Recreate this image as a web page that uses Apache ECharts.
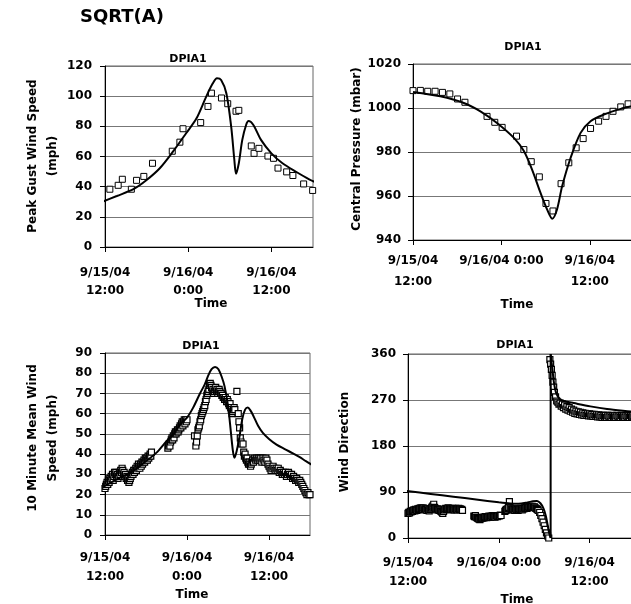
<!DOCTYPE html>
<html><head><meta charset="utf-8">
<script src="https://cdn.jsdelivr.net/npm/echarts@6/dist/echarts.min.js"></script>
<style>html,body{margin:0;padding:0;background:#fff}#c{width:631px;height:604px}</style>
</head><body><div id="c"></div>
<script>
// time in hours after 9/15/04 12:00
const timeTicks = [0, 12, 24];
const tickLabelsNarrow = ['9/15/04\n12:00', '9/16/04\n0:00', '9/16/04\n12:00'];
const tickLabelsWide = ['9/15/04\n12:00', '9/16/04 0:00', '9/16/04\n12:00'];

// Peak gust wind speed (mph)
const gustObs = [[0.7,38.3],[1.9,40.9],[2.5,44.9],[3.8,38.3],[4.55,44.2],[5.6,46.8],[6.85,55.5],[9.7,63.5],[10.8,69.5],[11.25,78.4],[13.8,82.5],[14.85,93.2],[15.35,102],[16.8,98.8],[17.7,95],[18.9,90],[19.3,90.6],[21.1,67],[21.5,62.1],[22.2,65.4],[23.5,60.3],[24.3,58.8],[24.95,52.3],[26.2,49.8],[27.1,47.4],[28.65,41.8],[29.95,37.5]];
const gustModel = [[-0.7,29.4],[1.7,33.8],[4.1,38.3],[6.0,44.4],[7.9,52.2],[9.8,63.2],[11.7,75.4],[13.2,85.3],[14.6,99.7],[15.55,108.5],[16.15,111.8],[16.75,110.7],[17.5,101.9],[18.2,79.8],[18.65,58],[18.9,48.5],[19.3,55.5],[19.8,71],[20.35,80.9],[20.7,83.5],[21.4,80.9],[22.5,71],[24.0,62.1],[25.6,55.5],[27.55,49.9],[29.45,44.9],[30.9,41.8]];

// Central pressure (mbar)
const pressObs = [[0,1007.9],[1,1008],[2,1007.6],[3,1007.6],[4,1007.1],[5,1006.4],[6.05,1004.1],[7.05,1002.6],[10.05,996.2],[11.1,993.5],[12.1,991.2],[14.05,987.2],[15.05,981.1],[16.05,975.6],[17.15,968.7],[18.05,956.6],[19.0,953.2],[20.1,965.6],[21.15,975.1],[22.15,981.9],[23.1,986.1],[24.1,990.7],[25.2,994],[26.2,996.2],[27.15,998.5],[28.2,1000.5],[29.2,1001.9]];
const pressModel = [[0,1007.3],[3.7,1005.3],[6.9,1002.3],[9.15,998.5],[11.4,993.2],[13.7,986.4],[15.05,980.4],[16.15,972.1],[17.3,961.5],[18.2,953.9],[18.9,949.7],[19.55,953.9],[20.25,964.5],[21.4,977.4],[22.75,988.7],[24.1,994],[25.9,997],[28.2,999.6],[29.7,1000.8],[30.5,1001.3]];

// 10 minute mean wind speed (mph)
const meanObs = [[0.0,23],[0.1,24],[0.2,25],[0.3,26],[0.4,25],[0.5,27],[0.6,26],[0.7,28],[0.8,27],[0.9,29],[1.0,28],[1.1,30],[1.2,27],[1.3,29],[1.4,31],[1.5,30],[1.6,31],[1.7,29],[1.8,30],[1.9,28],[2.0,29],[2.1,31],[2.2,30],[2.3,32],[2.4,31],[2.5,33],[2.6,32],[2.7,30],[2.8,31],[2.9,29],[3.0,30],[3.1,28],[3.2,29],[3.3,27],[3.4,28],[3.5,26],[3.6,27],[3.7,28],[3.8,29],[3.9,30],[4.0,31],[4.1,30],[4.2,32],[4.3,31],[4.4,32],[4.5,33],[4.6,32],[4.7,34],[4.8,33],[4.9,35],[5.0,34],[5.1,33],[5.2,35],[5.3,34],[5.4,36],[5.5,35],[5.6,36],[5.7,37],[5.8,36],[5.9,38],[6.0,37],[6.1,38],[6.2,37],[6.3,39],[6.4,38],[6.5,39],[6.6,40],[6.7,39],[6.8,41],
[9.2,43],[9.3,44],[9.4,45],[9.5,44],[9.6,46],[9.7,47],[9.8,48],[9.9,47],[10.0,49],[10.1,48],[10.2,50],[10.3,51],[10.4,50],[10.5,51],[10.6,52],[10.7,51],[10.8,52],[10.9,53],[11.0,54],[11.1,53],[11.2,55],[11.3,56],[11.4,54],[11.5,56],[11.6,57],[11.7,55],[11.8,57],[11.9,56],[12.0,57],
[13.1,49],[13.3,44],[13.4,46],[13.5,49],[13.6,52],[13.7,53],[13.8,54],[13.9,56],[14.0,57],[14.1,59],[14.2,60],[14.3,61],[14.4,62],[14.5,63],[14.6,64],[14.7,66],[14.8,67],[14.9,69],[15.0,70],[15.1,71],[15.2,72],[15.3,74],[15.4,75],[15.5,74],[15.6,73],[15.7,71],[15.8,72],[15.9,70],[16.0,71],[16.1,72],[16.2,73],[16.3,71],[16.4,72],[16.5,70],[16.6,71],[16.7,72],[16.8,71],[16.9,70],[17.0,70],[17.1,69],[17.2,69],[17.3,68],[17.4,68],[17.5,67],[17.6,68],[17.7,67],[17.8,66],[17.9,67],[18.0,66],[18.1,65],[18.2,64],[18.3,65],[18.4,63],[18.5,62],[18.6,60],[18.7,61],[18.8,62],[18.9,63],[19.0,62],[19.3,71],[19.5,60],[19.6,56],[19.7,53],[19.8,48],[19.9,46],[20.0,45],[20.2,45],[20.3,41],[20.4,39],[20.5,40],[20.6,38],[20.7,37],[20.8,38],[20.9,36],[21.0,35],[21.1,36],[21.2,35],[21.3,34],[21.4,35],[21.5,36],
[21.6,37],[21.75,36],[21.9,38],[22.05,37],[22.2,38],[22.35,37],[22.5,38],[22.65,37],[22.8,38],[22.95,36],[23.1,38],[23.25,37],[23.4,36],[23.55,38],[23.7,37],[23.85,35],[24.0,34],[24.15,33],[24.3,32],[24.45,33],[24.6,34],[24.75,33],[24.9,32],[25.05,33],[25.2,32],[25.35,33],[25.5,31],[25.65,32],[25.8,31],[25.95,30],[26.1,31],[26.25,30],[26.4,31],[26.55,29],[26.7,30],[26.85,31],[27.0,30],[27.15,29],[27.3,30],[27.45,28],[27.6,29],[27.75,28],[27.9,27],[28.05,28],[28.2,27],[28.35,26],[28.5,27],[28.65,26],[28.8,25],[28.95,24],[29.1,23],[29.25,22],[29.4,21],[29.55,20],[29.7,21],[29.85,20],[30.0,20]];
const meanModel = [[-0.2,24],[2,28],[4.1,31.6],[5.8,36],[7.5,40.6],[9.0,46.4],[10.0,49.7],[11.0,54.6],[12.0,58],[12.9,63],[13.9,70],[14.6,74.5],[15.1,78.8],[15.6,82],[16.1,83.1],[16.6,82],[17.1,78],[17.5,73.5],[18.0,64],[18.3,55],[18.7,42],[18.95,38.2],[19.3,42],[19.7,49],[20.1,57.5],[20.5,62],[20.9,63],[21.3,61.5],[21.7,59],[22.4,54],[23.1,50.5],[24.0,47.5],[25.1,44.7],[26.3,42.5],[27.5,40.4],[28.5,38.5],[29.4,36.5],[30.65,34]];

// Wind direction (deg)
const dirObs = [[0.0,48],[0.1,50],[0.2,49],[0.3,52],[0.4,51],[0.5,53],[0.6,52],[0.7,54],[0.8,55],[0.9,53],[1.0,56],[1.1,55],[1.2,54],[1.3,57],[1.4,56],[1.5,58],[1.6,57],[1.7,59],[1.8,58],[1.9,56],[2.0,59],[2.1,57],[2.2,55],[2.3,57],[2.4,56],[2.5,54],[2.6,57],[2.7,55],[2.8,53],[2.9,56],[3.0,57],[3.1,59],[3.2,61],[3.3,63],[3.4,66],[3.5,60],[3.6,58],[3.7,57],[3.8,55],[3.9,57],[4.0,56],[4.1,54],[4.2,55],[4.3,53],[4.4,52],[4.5,50],[4.6,48],[4.7,52],[4.8,55],[4.9,57],[5.0,58],[5.1,56],[5.2,57],[5.3,59],[5.4,58],[5.5,56],[5.6,57],[5.7,55],[5.8,56],[5.9,58],[6.0,57],[6.1,55],[6.2,57],[6.3,58],[6.4,56],[6.5,55],[6.6,57],[6.7,58],[6.8,56],[6.9,57],[7.0,55],[7.1,56],[7.2,54],
[8.7,43],[8.8,42],[8.9,44],[9.0,41],[9.1,40],[9.2,39],[9.3,38],[9.4,37],[9.5,36],[9.6,38],[9.7,39],[9.8,40],[9.9,39],[10.0,41],[10.1,40],[10.2,42],[10.3,41],[10.4,40],[10.5,42],[10.6,41],[10.7,43],[10.8,42],[10.9,41],[11.0,43],[11.1,42],[11.2,44],[11.3,43],[11.4,42],[11.5,41],[11.6,43],[11.7,44],[11.8,42],[11.9,43],[12.0,44],[12.1,43],[12.2,45],[12.3,44],
[12.8,52],[12.9,54],[13.0,56],[13.1,55],[13.2,58],[13.3,60],[13.4,71],[13.5,59],[13.6,57],[13.7,56],[13.8,55],[13.9,57],[14.0,56],[14.1,54],[14.2,57],[14.3,55],[14.4,56],[14.5,54],[14.6,55],[14.7,57],[14.8,56],[14.9,58],[15.0,57],[15.1,55],[15.2,58],[15.3,57],[15.4,59],[15.5,58],[15.6,60],[15.7,58],[15.8,59],[15.9,61],[16.0,60],[16.1,62],[16.2,61],[16.3,60],[16.4,62],[16.5,61],[16.6,60],[16.7,61],[16.8,59],[16.9,58],[17.0,57],[17.1,56],[17.2,54],
[17.4,50],[17.55,44],[17.7,38],[17.85,31],[18.0,24],[18.15,17],[18.3,10],[18.45,4],[18.6,0],
[18.75,349],[18.85,340],[18.95,330],[19.05,318],[19.15,305],[19.25,295],[19.35,285],[19.5,276],
[19.65,268],[19.8,266],[19.95,262],[20.1,264],[20.25,258],[20.4,262],[20.55,255],[20.7,260],[20.85,252],[21.0,257],[21.15,250],[21.3,255],[21.45,248],[21.6,252],[21.75,246],[21.9,250],[22.05,244],[22.2,248],[22.35,243],[22.5,247],[22.65,242],[22.8,246],[22.95,241],[23.1,245],[23.25,240],[23.4,244],[23.55,240],[23.7,243],[23.85,239],[24.0,243],[24.15,239],[24.3,242],[24.45,238],[24.6,242],[24.75,238],[24.9,241],[25.05,237],[25.2,241],[25.35,237],[25.5,240],[25.65,236],[25.8,240],[25.95,237],[26.1,240],[26.25,236],[26.4,240],[26.55,237],[26.7,239],[26.85,236],[27.0,240],[27.15,237],[27.3,239],[27.45,236],[27.6,240],[27.75,237],[27.9,239],[28.05,236],[28.2,240],[28.35,237],[28.5,239],[28.65,236],[28.8,240],[28.95,237],[29.1,239],[29.25,236],[29.4,240],[29.55,237],[29.7,239],[29.85,236],[30.0,239]];
const dirModelBefore = [[-0.4,92.5],[3,86.3],[6,80.8],[9,75.3],[12,69.8],[13.5,67.5],[14.6,67],[15.8,69.5],[16.5,71.8],[17.05,72.5],[17.5,68],[17.9,58],[18.2,44],[18.45,26],[18.65,10],[18.85,0]];
const dirModelAfter = [[18.85,360],[19.05,335],[19.3,303],[19.6,283],[20.1,271],[20.6,268],[21.9,264],[24.1,257.5],[26.3,252.4],[29.4,247.7],[30.5,246]];

const FONT = '"DejaVu Sans", sans-serif';
const grids = [
  {left:105, top:66, width:208, height:181},
  {left:413, top:64, width:221, height:176},
  {left:105, top:353, width:205, height:182},
  {left:408, top:354, width:227, height:184}
].map(g => Object.assign({show:true, borderColor:'#666', borderWidth:1, backgroundColor:'transparent', containLabel:false, outerBoundsMode:'none'}, g));

function xAx(i, labels, margin, lh) {
  return {type:'value', gridIndex:i, min:0, max:30,
    axisLine:{show:true, onZero:false, lineStyle:{color:'#000', width:1}},
    axisTick:{show:true, customValues:timeTicks, length:5, lineStyle:{color:'#000', width:1}},
    axisLabel:{show:true, customValues:timeTicks, formatter:v => labels[timeTicks.indexOf(v)],
      margin:margin, lineHeight:lh, fontFamily:FONT, fontWeight:'bold', fontSize:12, color:'#000'},
    splitLine:{show:false}};
}
function yAx(i, min, max, interval, margin) {
  return {type:'value', gridIndex:i, min:min, max:max, interval:interval,
    axisLine:{show:true, onZero:false, lineStyle:{color:'#000', width:1}},
    axisTick:{show:true, length:5, lineStyle:{color:'#000', width:1}},
    axisLabel:{show:true, margin:margin, formatter:v => String(v), fontFamily:FONT, fontWeight:'bold', fontSize:12, color:'#000'},
    splitLine:{show:true, lineStyle:{color:'#777', width:1}}};
}
function obs(i, data, bw) {
  return {type:'scatter', xAxisIndex:i, yAxisIndex:i, data:data, symbol:'rect', symbolSize:6,
    itemStyle:{color:'#fff', borderColor:'#000', borderWidth:bw || 1, opacity:1}, z:2, silent:true};
}
function mod(i, data, smooth) {
  return {type:'line', xAxisIndex:i, yAxisIndex:i, data:data, showSymbol:false, symbol:'none',
    smooth:smooth, lineStyle:{color:'#000', width:2}, clip:false, z:3, silent:true};
}
function txt(x, y, text, size, rot, lh) {
  const font = 'bold ' + size + 'px ' + FONT;
  return {type:'text', x:x, y:y, rotation:rot || 0, silent:true,
    style:{text:text, font:font, fill:'#000', align:'center', verticalAlign:'middle',
      textAlign:'center', textVerticalAlign:'middle', lineHeight:lh || size + 2}};
}

const option = {
  animation:false,
  backgroundColor:'#fff',
  grid:grids,
  xAxis:[xAx(0, tickLabelsNarrow, 17, 18), xAx(1, tickLabelsWide, 10, 21), xAx(2, tickLabelsNarrow, 13, 19), xAx(3, tickLabelsWide, 15, 19)],
  yAxis:[yAx(0, 0, 120, 20, 13), yAx(1, 940, 1020, 20, 12), yAx(2, 0, 90, 10, 13), yAx(3, 0, 360, 90, 12)],
  series:[
    obs(0, gustObs), mod(0, gustModel, 0.3),
    obs(1, pressObs), mod(1, pressModel, 0.3),
    obs(2, meanObs, 1.2), mod(2, meanModel, 0.3),
    obs(3, dirObs, 1.2), mod(3, dirModelBefore, 0.3),
    mod(3, [dirModelBefore[dirModelBefore.length - 1], dirModelAfter[0]], false),
    mod(3, dirModelAfter, 0.3)
  ],
  graphic:[
    txt(122, 17, 'SQRT(A)', 18),
    txt(188, 59, 'DPIA1', 11),
    txt(43, 156, 'Peak Gust Wind Speed\n(mph)', 12, Math.PI / 2, 20),
    txt(211, 304, 'Time', 12),
    txt(523, 47, 'DPIA1', 11),
    txt(357, 149, 'Central Pressure (mbar)', 12, Math.PI / 2),
    txt(517, 305, 'Time', 12),
    txt(201, 346, 'DPIA1', 11),
    txt(43, 438, '10 Minute Mean Wind\nSpeed (mph)', 12, Math.PI / 2, 20),
    txt(192, 595, 'Time', 12),
    txt(515, 345, 'DPIA1', 11),
    txt(345, 442, 'Wind Direction', 12, Math.PI / 2),
    txt(517, 600, 'Time', 12)
  ]
};
const chart = echarts.init(document.getElementById('c'), null, {renderer:'canvas', width:631, height:604});
chart.setOption(option);
</script>
</body></html>
